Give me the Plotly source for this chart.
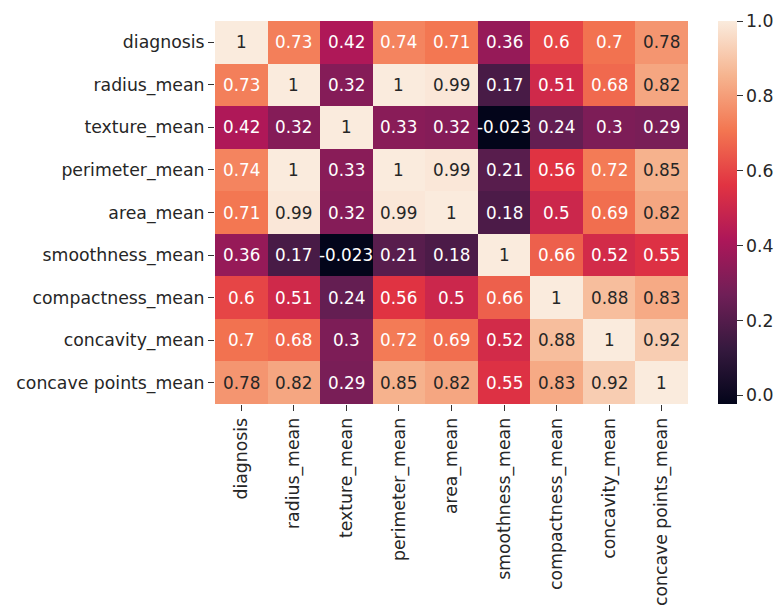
import plotly.graph_objects as go

# Correlation matrix of the breast-cancer mean features
labels = [
    "diagnosis", "radius_mean", "texture_mean", "perimeter_mean", "area_mean",
    "smoothness_mean", "compactness_mean", "concavity_mean", "concave points_mean",
]

row_diagnosis = [1, 0.73, 0.42, 0.74, 0.71, 0.36, 0.6, 0.7, 0.78]
row_radius = [0.73, 1, 0.32, 1, 0.99, 0.17, 0.51, 0.68, 0.82]
row_texture = [0.42, 0.32, 1, 0.33, 0.32, -0.023, 0.24, 0.3, 0.29]
row_perimeter = [0.74, 1, 0.33, 1, 0.99, 0.21, 0.56, 0.72, 0.85]
row_area = [0.71, 0.99, 0.32, 0.99, 1, 0.18, 0.5, 0.69, 0.82]
row_smoothness = [0.36, 0.17, -0.023, 0.21, 0.18, 1, 0.66, 0.52, 0.55]
row_compactness = [0.6, 0.51, 0.24, 0.56, 0.5, 0.66, 1, 0.88, 0.83]
row_concavity = [0.7, 0.68, 0.3, 0.72, 0.69, 0.52, 0.88, 1, 0.92]
row_concave_points = [0.78, 0.82, 0.29, 0.85, 0.82, 0.55, 0.83, 0.92, 1]

matrix = [
    row_diagnosis, row_radius, row_texture, row_perimeter, row_area,
    row_smoothness, row_compactness, row_concavity, row_concave_points,
]

cbar_ticks = [0.0, 0.2, 0.4, 0.6, 0.8, 1.0]

zmin = min(min(r) for r in matrix)
zmax = max(max(r) for r in matrix)

# "rocket" sequential colormap
rocket = [
    [0.0, "#03051a"],
    [1 / 7, "#35193e"],
    [2 / 7, "#701f57"],
    [3 / 7, "#ad1759"],
    [4 / 7, "#e13342"],
    [5 / 7, "#f37651"],
    [6 / 7, "#f6b48f"],
    [1.0, "#faebdd"],
]

FONT = "DejaVu Sans"
TICK_FS = 17.3
CELL_FS = 16.8

fig = go.Figure(
    go.Heatmap(
        z=matrix,
        x=labels,
        y=labels,
        zmin=zmin,
        zmax=zmax,
        colorscale=rocket,
        showscale=True,
        colorbar=dict(
            x=1.0634,
            xanchor="left",
            xpad=0,
            ypad=0,
            y=0.5,
            yanchor="middle",
            len=1,
            lenmode="fraction",
            thickness=19,
            outlinewidth=0,
            tickvals=cbar_ticks,
            ticktext=[f"{t:.1f}" for t in cbar_ticks],
            ticks="outside",
            ticklen=6,
            tickwidth=1,
            tickcolor="#333333",
            tickfont=dict(family=FONT, size=TICK_FS, color="#262626"),
        ),
        hoverinfo="skip",
    )
)

# Cell annotations: light text on dark cells, dark text on light cells
annotations = []
for i, row in enumerate(matrix):
    for j, v in enumerate(row):
        norm = (v - zmin) / (zmax - zmin)
        annotations.append(
            dict(
                x=labels[j],
                y=labels[i],
                text=format(v, ".2g"),
                showarrow=False,
                font=dict(family=FONT, size=CELL_FS,
                          color="#262626" if norm > 0.77 else "#ffffff"),
            )
        )

fig.update_layout(
    width=777,
    height=609,
    margin=dict(l=215, r=89, t=21, b=205, autoexpand=False),
    paper_bgcolor="white",
    plot_bgcolor="white",
    annotations=annotations,
    xaxis=dict(
        tickangle=-90,
        ticks="outside",
        ticklen=6,
        tickcolor="#333333",
        showgrid=False,
        zeroline=False,
        automargin=False,
        tickfont=dict(family=FONT, size=TICK_FS, color="#262626"),
    ),
    yaxis=dict(
        autorange="reversed",
        ticks="outside",
        ticklen=6,
        tickcolor="#333333",
        showgrid=False,
        zeroline=False,
        automargin=False,
        tickfont=dict(family=FONT, size=TICK_FS, color="#262626"),
    ),
)

fig.write_html("out.html")
